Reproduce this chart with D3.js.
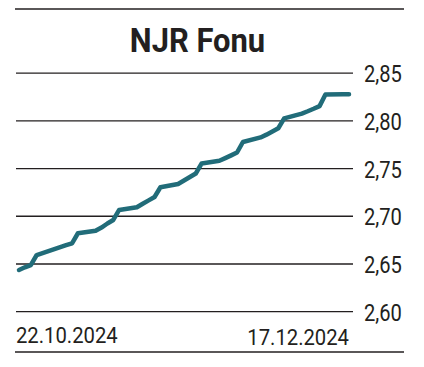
<!DOCTYPE html>
<html>
<head>
<meta charset="utf-8">
<script src="https://cdn.jsdelivr.net/npm/d3@7"></script>
<style>
  body { margin: 0; background: #fff; }
  text { font-family: Roboto, "Noto Sans", sans-serif; fill: #231f20; }
</style>
</head>
<body>
<script>
// chart data
var title = "NJR Fonu";
var dates = ["2024-10-22","2024-10-23","2024-10-24","2024-10-25","2024-10-28","2024-10-30","2024-10-31",
  "2024-11-01","2024-11-04","2024-11-05","2024-11-06","2024-11-07","2024-11-08",
  "2024-11-11","2024-11-12","2024-11-13","2024-11-14","2024-11-15",
  "2024-11-18","2024-11-19","2024-11-20","2024-11-21","2024-11-22",
  "2024-11-25","2024-11-26","2024-11-27","2024-11-28","2024-11-29",
  "2024-12-02","2024-12-03","2024-12-04","2024-12-05","2024-12-06",
  "2024-12-09","2024-12-10","2024-12-11","2024-12-12","2024-12-13",
  "2024-12-16","2024-12-17"];
var prices = [2.6437,2.6465,2.6489,2.6594,2.6656,2.6697,2.6717,
  2.6822,2.6848,2.6882,2.6924,2.6961,2.7066,
  2.7094,2.7131,2.7166,2.7202,2.7304,
  2.7338,2.7374,2.7411,2.7448,2.7553,
  2.7581,2.7609,2.7638,2.7668,2.7778,
  2.7826,2.7855,2.7888,2.7922,2.8025,
  2.8076,2.8100,2.8126,2.8154,2.8276,
  2.8278,2.8278];
var yTicks = [2.60, 2.65, 2.70, 2.75, 2.80, 2.85];
var xLabels = ["22.10.2024", "17.12.2024"];

var W = 424, H = 367;
var parseTime = d3.timeParse("%Y-%m-%d");
var fmt = function(v) { return d3.format(".2f")(v).replace(".", ","); };

var data = dates.map(function(d, i) { return {date: parseTime(d), value: prices[i]}; });

var x = d3.scaleTime()
    .domain([parseTime(dates[0]), parseTime(dates[dates.length - 1])])
    .range([19, 349]);
var y = d3.scaleLinear().domain([2.60, 2.85]).range([311.7, 73.1]);

var svg = d3.select("body").append("svg")
    .attr("width", W)
    .attr("height", H);

// top and bottom rules
svg.append("line").attr("x1", 15).attr("x2", 404).attr("y1", 9).attr("y2", 9)
    .style("stroke", "#231f20").style("stroke-width", 1.6);
svg.append("line").attr("x1", 15).attr("x2", 404).attr("y1", 352).attr("y2", 352)
    .style("stroke", "#231f20").style("stroke-width", 1.6);

// title
svg.append("text")
    .attr("transform", "translate(197.5,52.3) scale(0.91,1)")
    .attr("text-anchor", "middle")
    .style("font-size", "34px")
    .style("font-weight", "bold")
    .text(title);

// gridlines
svg.selectAll(".grid").data(yTicks).enter().append("line")
    .attr("class", "grid")
    .attr("x1", 16).attr("x2", 353)
    .attr("y1", function(d) { return y(d); })
    .attr("y2", function(d) { return y(d); })
    .style("stroke", "#231f20")
    .style("stroke-width", 1.3);

// y labels
svg.selectAll(".ylab").data(yTicks).enter().append("text")
    .attr("class", "ylab")
    .attr("transform", function(d) { return "translate(364," + (y(d) + 9.2) + ") scale(0.84,1)"; })
    .style("font-size", "24px")
    .text(fmt);

// price line
var valueline = d3.line()
    .x(function(d) { return x(d.date); })
    .y(function(d) { return y(d.value); });

svg.append("path").datum(data)
    .attr("d", valueline)
    .style("fill", "none")
    .style("stroke", "#216c79")
    .style("stroke-width", 4.5)
    .style("stroke-linejoin", "round")
    .style("stroke-linecap", "round");

// date labels
svg.append("text")
    .attr("transform", "translate(16,342.7) scale(0.9,1)")
    .style("font-size", "22.5px")
    .text(xLabels[0]);
svg.append("text")
    .attr("transform", "translate(349,345.2) scale(0.9,1)")
    .attr("text-anchor", "end")
    .style("font-size", "22.5px")
    .text(xLabels[1]);
</script>
</body>
</html>
